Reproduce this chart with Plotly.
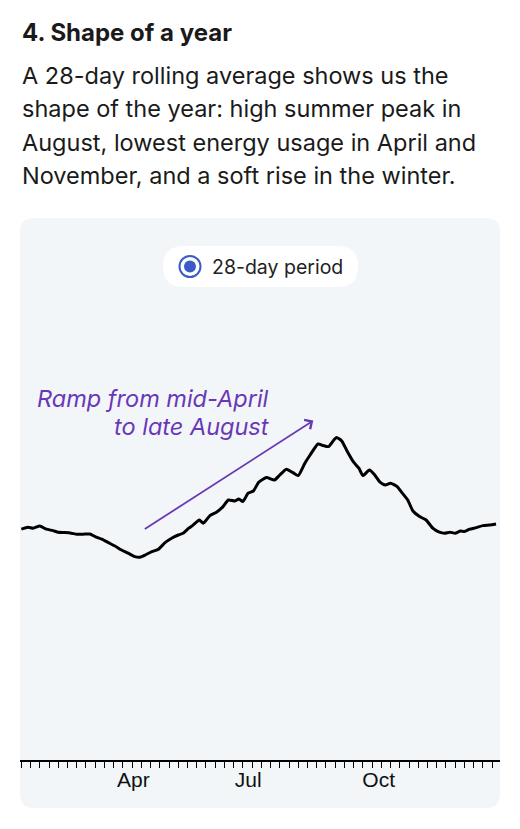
import plotly.graph_objects as go

# ---- data (day of year, 28-day rolling average) ----
days = [1, 6, 10, 15, 20, 25, 29, 34, 39, 43, 48, 53, 57, 62, 67, 72, 77, 82, 87, 91,
        95, 100, 105, 110, 115, 120, 124, 128, 131, 136, 139, 144, 149, 154, 158, 163,
        166, 169, 173, 177, 181, 187, 193, 197, 202, 207, 211, 216, 220, 226, 230, 234,
        238, 240, 244, 248, 253, 257, 260, 265, 269, 273, 277, 281, 286, 289, 294, 298,
        303, 308, 313, 318, 322, 326, 330, 334, 337, 341, 346, 351, 356, 361]
avg_kwh = [11.54, 11.64, 11.59, 11.70, 11.54, 11.47, 11.39, 11.37, 11.34, 11.29, 11.29,
           11.30, 11.17, 11.04, 10.87, 10.70, 10.50, 10.34, 10.17, 10.14, 10.25, 10.42,
           10.54, 10.87, 11.09, 11.25, 11.35, 11.59, 11.73, 12.00, 11.84, 12.22, 12.39,
           12.67, 13.00, 12.95, 13.05, 12.92, 13.34, 13.45, 13.89, 14.12, 14.00, 14.25,
           14.54, 14.37, 14.22, 14.84, 15.25, 15.80, 15.72, 15.67, 16.00, 16.13, 15.95,
           15.45, 14.89, 14.59, 14.22, 14.50, 14.25, 13.89, 13.75, 13.84, 13.67, 13.42,
           13.00, 12.45, 12.17, 12.00, 11.59, 11.39, 11.34, 11.39, 11.34, 11.45, 11.42,
           11.54, 11.62, 11.72, 11.75, 11.80]
tick_days = [86, 173, 272]
tick_labels = ["Apr", "Jul", "Oct"]

title = "4. Shape of a year"
body_lines = [
    "A 28-day rolling average shows us the",
    "shape of the year: high summer peak in",
    "August, lowest energy usage in April and",
    "November, and a soft rise in the winter.",
]
legend_label = "28-day period"
note_lines = ["Ramp from mid-April", "to late August"]
arrow_from = (93.5, 11.5)
arrow_to = (222.4, 16.97)

# page is offset by the browser's default 8px body margin
W, H = 512, 821
ML, MR, MT, MB = 12, 20, 292, 69
PW, PH = W - ML - MR, H - MT - MB
PAGE_PLOT_LEFT, PAGE_PLOT_BOTTOM = 20, 760


def px(x):
    return (x - PAGE_PLOT_LEFT) / PW


def py(y):
    return (PAGE_PLOT_BOTTOM - y) / PH


CARD = "#f3f6f9"
PURPLE = "#6939b5"
BLUE = "#3b5bc8"
FONT = "Inter, 'Noto Sans', sans-serif"


def rounded_rect(x0, y0, x1, y1, r):
    rx, ry = r / PW, r / PH
    X0, X1 = px(x0), px(x1)
    Yt, Yb = py(y0), py(y1)
    return (f"M{X0+rx},{Yt} L{X1-rx},{Yt} Q{X1},{Yt} {X1},{Yt-ry} "
            f"L{X1},{Yb+ry} Q{X1},{Yb} {X1-rx},{Yb} L{X0+rx},{Yb} "
            f"Q{X0},{Yb} {X0},{Yb+ry} L{X0},{Yt-ry} Q{X0},{Yt} {X0+rx},{Yt} Z")


fig = go.Figure()
fig.add_trace(go.Scatter(
    x=days, y=avg_kwh, mode="lines",
    line=dict(color="#000000", width=3, shape="spline", smoothing=0.5),
    showlegend=False, hoverinfo="skip",
))

shapes = [
    dict(type="path", xref="paper", yref="paper", layer="below",
         path=rounded_rect(20, 218, 500, 808, 14),
         fillcolor=CARD, line=dict(width=0)),
    dict(type="path", xref="paper", yref="paper",
         path=rounded_rect(163, 246, 358, 287, 20.5),
         fillcolor="#ffffff", line=dict(width=0)),
    dict(type="circle", xref="paper", yref="paper",
         xsizemode="pixel", ysizemode="pixel",
         xanchor=px(190), yanchor=py(266.5),
         x0=-10.5, x1=10.5, y0=-10.5, y1=10.5,
         line=dict(color=BLUE, width=2), fillcolor="#ffffff"),
    dict(type="circle", xref="paper", yref="paper",
         xsizemode="pixel", ysizemode="pixel",
         xanchor=px(190), yanchor=py(266.5),
         x0=-6, x1=6, y0=-6, y1=6,
         line=dict(width=0), fillcolor=BLUE),
]

annotations = [
    dict(text=f"<b>{title}</b>", xref="paper", yref="paper", x=px(20), y=py(33),
         xanchor="left", yanchor="middle", showarrow=False,
         font=dict(family=FONT, size=24, color="#1a1a1a")),
    dict(text=legend_label, xref="paper", yref="paper", x=px(210), y=py(267),
         xanchor="left", yanchor="middle", showarrow=False,
         font=dict(family=FONT, size=19.5, color="#222222")),
    dict(x=arrow_to[0], y=arrow_to[1], ax=arrow_from[0], ay=arrow_from[1],
         xref="x", yref="y", axref="x", ayref="y", text="", showarrow=True,
         arrowhead=4, arrowsize=1.2, arrowwidth=1.8, arrowcolor=PURPLE),
]
for i, line in enumerate(note_lines):
    annotations.append(dict(
        text=f"<i>{line}</i>", xref="paper", yref="paper", x=px(271), y=py(398 + i * 28),
        xanchor="right", yanchor="middle", showarrow=False,
        font=dict(family=FONT, size=23.5, color=PURPLE)))
for i, line in enumerate(body_lines):
    annotations.append(dict(
        text=line, xref="paper", yref="paper", x=px(20), y=py(75 + i * 33.6),
        xanchor="left", yanchor="middle", showarrow=False,
        font=dict(family=FONT, size=23.5, color="#1a1a1a")))

fig.update_layout(
    width=W, height=H,
    margin=dict(l=ML, r=MR, t=MT, b=MB),
    paper_bgcolor="#ffffff", plot_bgcolor=CARD,
    shapes=shapes, annotations=annotations,
    showlegend=False,
    xaxis=dict(range=[0, 364], showgrid=False, zeroline=False,
               showline=True, linecolor="#000000", linewidth=1.5,
               tickmode="array", tickvals=tick_days, ticktext=tick_labels,
               ticks="", ticklen=0,
               tickfont=dict(family="'Liberation Sans', Arial, sans-serif", size=21, color="#111111"),
               minor=dict(tickmode="linear", tick0=1, dtick=7, ticks="outside",
                          ticklen=6, tickwidth=1.2, tickcolor="#000000"),
               fixedrange=True),
    yaxis=dict(range=[0, 23], visible=False, showgrid=False, zeroline=False,
               fixedrange=True),
)

fig.write_html("out.html")
